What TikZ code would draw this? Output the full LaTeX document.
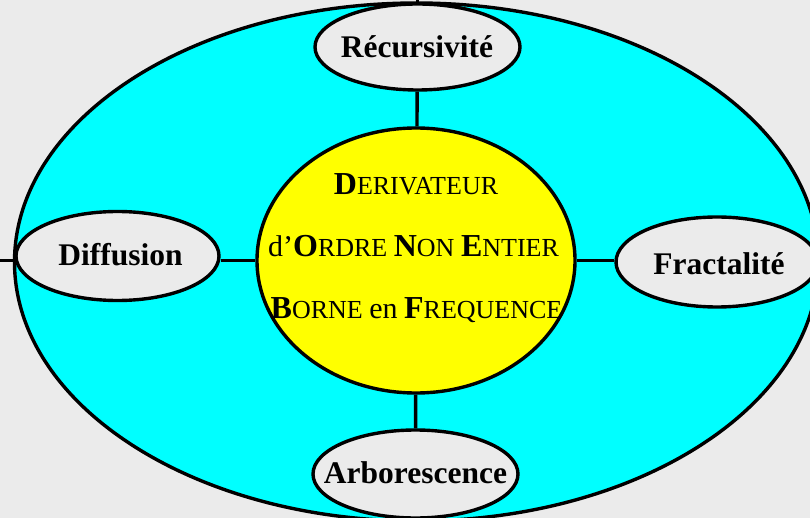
\documentclass[tikz,border=0pt]{standalone}
\usepackage{fontspec}
\setmainfont{Liberation Serif}
\usetikzlibrary{shapes.geometric}
\definecolor{bg}{HTML}{EBEBEB}
\definecolor{cy}{HTML}{00FFFF}
\definecolor{ye}{HTML}{FFFF00}
\newcommand\BLt[1]{{\fontsize{32}{32}\selectfont\bfseries #1}}
\newcommand\SMt[1]{{\fontsize{26}{26}\selectfont #1}}
\newcommand\MDt[1]{{\fontsize{30}{30}\selectfont #1}}
\begin{document}
\begin{tikzpicture}[x=1pt,y=-1pt, line width=3.4pt,
 sat/.style={ellipse, draw=black, fill=bg, inner sep=0pt},
 lab/.style={font=\fontsize{31.5}{32}\selectfont\bfseries, inner sep=0pt, text height=21pt, text depth=0pt},
 ctext/.style={inner sep=0pt, anchor=base},
 link/.style={draw=black, line width=3.4pt}]
\useasboundingbox (0,0) rectangle (810,518);
\clip (0,0) rectangle (810,518);
\fill[bg] (0,0) rectangle (810,518);
\node[ellipse, draw=black, fill=cy, minimum width=804pt, minimum height=518pt] (outer) at (416.5,262) {};
\node[ellipse, draw=black, fill=ye, minimum width=318pt, minimum height=265pt] (core) at (416,260.5) {};
\node[sat, minimum width=205pt, minimum height=86pt] (rec) at (417.5,47) {};
\node[sat, minimum width=203pt, minimum height=89pt] (diff) at (117.5,256) {};
\node[sat, minimum width=202pt, minimum height=90pt] (frac) at (717,262) {};
\node[sat, minimum width=205pt, minimum height=88pt] (arb) at (415.5,474) {};
\coordinate (topend) at (417.5,0);
\coordinate (leftend) at (0,260.5);
\draw[link] (rec) -- (topend);
\draw[link] (rec) -- (core);
\draw[link] (core.west -| diff.east) -- (core.west);
\draw[link] (leftend) -- (leftend -| diff.west);
\draw[link] (core.east) -- (core.east -| frac.west);
\draw[link] (arb) -- (core);
\node[lab] (recL) at (417,47) {Récursivité};
\node[lab] (diffL) at (120.5,255) {Diffusion};
\node[lab] (fracL) at (719,264) {Fractalité};
\node[lab] (arbL) at (415.5,473) {Arborescence};
\node[ctext] (l1) at (416,195) {\BLt{D}\SMt{ERIVATEUR}};
\node[ctext] (l2) at (413.5,257) {\MDt{d’}\BLt{O}\SMt{RDRE }\BLt{N}\SMt{ON }\BLt{E}\SMt{NTIER}};
\node[ctext] (l3) at (416.5,318) {\BLt{B}\SMt{ORNE }\MDt{en}\SMt{ }\BLt{F}\SMt{REQUENCE}};
\end{tikzpicture}
\end{document}
